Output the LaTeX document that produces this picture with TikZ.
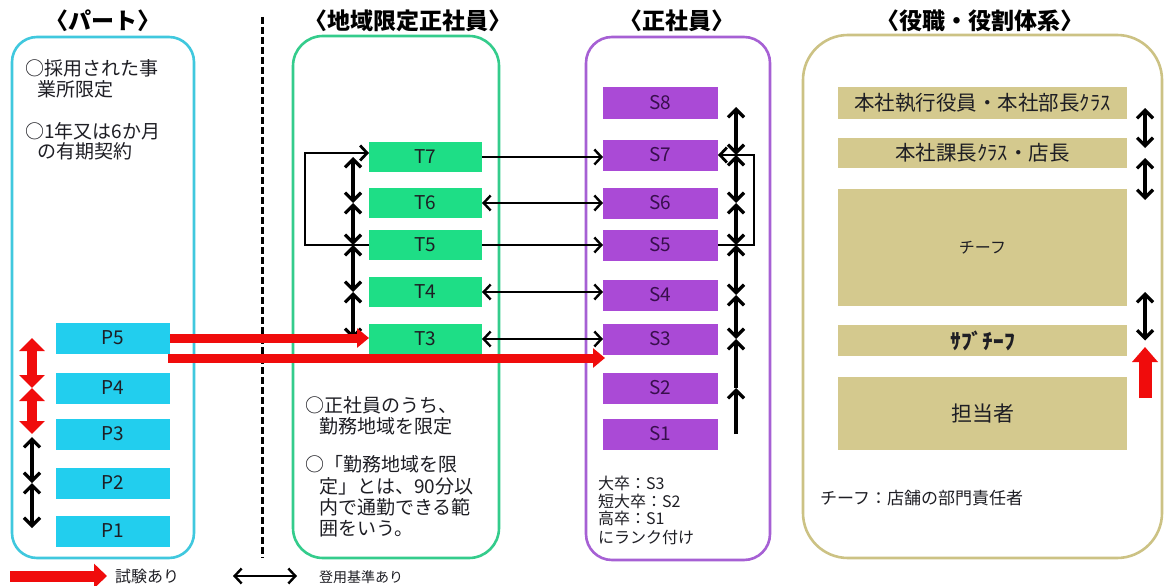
\documentclass[tikz,border=0pt]{standalone}
\usepackage{fontspec}
\setmainfont{Noto Sans CJK JP}
\usetikzlibrary{arrows.meta}
\definecolor{cyanline}{RGB}{64,200,222}
\definecolor{pfill}{RGB}{34,206,238}
\definecolor{greenline}{RGB}{52,204,140}
\definecolor{tfill}{RGB}{30,222,134}
\definecolor{purpline}{RGB}{166,96,212}
\definecolor{sfill}{RGB}{170,74,214}
\definecolor{khakiline}{RGB}{204,194,132}
\definecolor{kfill}{RGB}{212,201,142}
\definecolor{redarr}{RGB}{240,12,12}
\definecolor{stext}{RGB}{56,14,76}
\definecolor{dtext}{RGB}{30,30,36}
\tikzset{
  ttl/.style={font=\fontsize{23}{26}\selectfont\bfseries, inner sep=0pt, text=black},
  panel/.style={draw=#1, line width=2.6pt, inner sep=0pt, outer sep=0pt},
  lvl/.style={minimum height=31pt, inner sep=0pt, outer sep=0pt, font=\fontsize{19}{21}\selectfont},
  pbox/.style={lvl, fill=pfill, minimum width=114pt, text=dtext},
  tbox/.style={lvl, fill=tfill, minimum width=113pt, minimum height=30pt, text=dtext},
  sbox/.style={lvl, fill=sfill, minimum width=115pt, text=stext},
  kbox/.style={lvl, fill=kfill, minimum width=289pt, text=dtext, font=\fontsize{20.5}{23}\selectfont},
  note/.style={anchor=base west, inner sep=0pt, text=dtext, font=\fontsize{19}{21}\selectfont},
  snote/.style={anchor=base west, inner sep=0pt, text=dtext, font=\fontsize{16}{18}\selectfont},
  dbl/.style={line width=3.2pt, {Straight Barb[length=8pt,width=16pt]}-{Straight Barb[length=8pt,width=16pt]}},
  hdbl/.style={line width=2.4pt, {Straight Barb[length=7pt,width=15pt]}-{Straight Barb[length=7pt,width=15pt]}},
  one/.style={line width=2.4pt, -{Straight Barb[length=7pt,width=15pt]}},
  upone/.style={line width=3.2pt, -{Straight Barb[length=8pt,width=16pt]}},
  reddbl/.style={color=redarr, line width=10pt, {Triangle[length=13pt,width=25pt]}-{Triangle[length=13pt,width=25pt]}},
  redone/.style={color=redarr, line width=9pt, -{Triangle[length=12pt,width=19pt]}},
}
\begin{document}
\begin{tikzpicture}[x=1pt,y=-1pt]
\useasboundingbox (0,0) rectangle (1165,586);
\fill[white] (0,0) rectangle (1165,586);

% titles
\node[ttl] (h1) at (103,21) {〈パート〉};
\node[ttl] (h2) at (408,21) {〈地域限定正社員〉};
\node[ttl] (h3) at (677,21) {〈正社員〉};
\node[ttl] (h4) at (980,21) {〈役職・役割体系〉};

% panels
\node[panel=cyanline, rounded corners=25pt, minimum width=182pt, minimum height=521pt] (panP) at (103,297.5) {};
\node[panel=greenline, rounded corners=30pt, minimum width=206pt, minimum height=522pt] (panT) at (396,297) {};
\node[panel=purpline, rounded corners=26pt, minimum width=184pt, minimum height=523pt] (panS) at (678,298.5) {};
\node[panel=khakiline, rounded corners=45pt, minimum width=359pt, minimum height=523pt] (panK) at (982.5,296.5) {};

% dashed separator
\coordinate (dtop) at (262,17);
\coordinate (dbot) at (262,558);
\draw[line width=3pt, dash pattern=on 7pt off 3pt] (dtop) -- (dbot);

% P boxes
\node[pbox] (P5) at (113,338) {P5};
\node[pbox] (P4) at (113,388) {P4};
\node[pbox] (P3) at (113,434) {P3};
\node[pbox] (P2) at (113,483) {P2};
\node[pbox] (P1) at (113,531) {P1};

% T boxes
\node[tbox] (T7) at (425.5,157) {T7};
\node[tbox] (T6) at (425.5,203) {T6};
\node[tbox] (T5) at (425.5,245) {T5};
\node[tbox] (T4) at (425.5,292) {T4};
\node[tbox] (T3) at (425.5,339) {T3};

% S boxes
\node[sbox] (S8) at (660.5,103) {S8};
\node[sbox] (S7) at (660.5,155) {S7};
\node[sbox] (S6) at (660.5,203) {S6};
\node[sbox] (S5) at (660.5,245) {S5};
\node[sbox] (S4) at (660.5,295) {S4};
\node[sbox] (S3) at (660.5,339) {S3};
\node[sbox] (S2) at (660.5,388) {S2};
\node[sbox] (S1) at (660.5,434) {S1};

% K boxes
\node[kbox] (K1) at (982.5,103) {本社執行役員・本社部長ｸﾗｽ};
\node[kbox, minimum height=30pt] (K2) at (982.5,153) {本社課長ｸﾗｽ・店長};
\node[kbox, minimum height=117pt, font=\fontsize{16}{18}\selectfont] (K3) at (982.5,247.5) {チーフ};
\node[kbox, font=\fontsize{21.5}{23}\selectfont\bfseries] (K4) at (982.5,340.5) {ｻﾌﾞﾁｰﾌ};
\node[kbox, minimum height=73pt, font=\fontsize{21}{24}\selectfont] (K5) at (982.5,413.5) {担当者};

% notes
\node[note] (pn1) at (25,76) {○採用された事};
\node[note] (pn2) at (37,96) {業所限定};
\node[note] (pn3) at (25,138) {○1年又は6か月};
\node[note] (pn4) at (37,158) {の有期契約};

\node[note] (tn1) at (305,412) {○正社員のうち、};
\node[note] (tn2) at (319,433) {勤務地域を限定};
\node[note] (tn3) at (305,471) {○「勤務地域を限};
\node[note] (tn4) at (319,493) {定」とは、90分以};
\node[note] (tn5) at (319,514) {内で通勤できる範};
\node[note] (tn6) at (319,535) {囲をいう。};

\node[snote] (sn1) at (598,489) {大卒：S3};
\node[snote] (sn2) at (598,507) {短大卒：S2};
\node[snote] (sn3) at (598,524) {高卒：S1};
\node[snote] (sn4) at (598,543) {にランク付け};

\node[note, font=\fontsize{17}{19}\selectfont] (kn1) at (820,504) {チーフ：店舗の部門責任者};

% T -> S connectors
\draw[one] (T7.east) -- (T7.east -| S7.west);
\draw[hdbl] (T6.east) -- (T6.east -| S6.west);
\draw[one] (T5.east) -- (T5.east -| S5.west);
\draw[hdbl] (T4.east) -- (T4.east -| S4.west);
\draw[hdbl] (T3.east) -- (T3.east -| S3.west);

% T column vertical arrows and bracket
\coordinate (tx) at (353,0);
\coordinate (tb) at (305,0);
\draw[dbl] (tx |- T7) -- (tx |- T6);
\draw[dbl] (tx |- T6) -- (tx |- T5);
\draw[dbl] (tx |- T5) -- (tx |- T4);
\draw[dbl] (tx |- T4) -- (tx |- T3);
\draw[one, line width=2.8pt] (T5.west) -- (tb |- T5.west) -- ([yshift=4pt]tb |- T7.west) -- ([yshift=4pt]T7.west);

% S column vertical arrows and bracket
\coordinate (sx) at (736,0);
\coordinate (sb) at (754,0);
\draw[dbl, shorten <=4pt] (sx |- S8) -- (sx |- S7);
\draw[dbl] (sx |- S7) -- (sx |- S6);
\draw[dbl] (sx |- S6) -- (sx |- S5);
\draw[dbl] (sx |- S5) -- (sx |- S4);
\draw[dbl] (sx |- S4) -- (sx |- S3);
\draw[upone] (sx |- S2) -- (sx |- S3);
\draw[upone] (sx |- S1) -- (sx |- S2);
\draw[one, line width=2.8pt] (S5.east) -- (sb |- S5.east) -- (sb |- S7.east) -- (S7.east);

% K column arrows
\coordinate (kx) at (1145,0);
\coordinate (k3a) at (1145,200);
\coordinate (k3b) at (1145,292);
\coordinate (kr1) at (1145,398);
\coordinate (kr2) at (1145,347);
\draw[dbl, shorten <=5pt, shorten >=5pt] (kx |- K1) -- (kx |- K2);
\draw[dbl, shorten <=5pt] (kx |- K2) -- (k3a);
\draw[dbl] (k3b) -- (kx |- K4);
\draw[color=redarr, line width=13pt, -{Triangle[length=15pt,width=25pt]}] (kr1) -- (kr2);

% P column arrows
\coordinate (px) at (32,0);
\draw[reddbl] (px |- P5) -- (px |- P4);
\draw[reddbl] (px |- P4) -- (px |- P3);
\draw[dbl, shorten <=3pt] (px |- P3) -- (px |- P2);
\draw[dbl, shorten >=3pt] (px |- P2) -- (px |- P1);

% red promotion arrows
\coordinate (p5low) at (168,358);
\draw[redone] (P5.east) -- (P5.east -| T3.west);
\draw[redone] (p5low) -- ([xshift=2pt]p5low -| S3.west);

% legend
\coordinate (lr1) at (10,576);
\coordinate (lr2) at (107,576);
\node[anchor=west, inner sep=0pt, text=dtext, font=\fontsize{16}{18}\selectfont] (lt1) at (115,576) {試験あり};
\draw[color=redarr, line width=11pt, -{Triangle[length=13pt,width=24pt]}] (lr1) -- (lr2);
\coordinate (lb1) at (233,576);
\coordinate (lb2) at (297,576);
\node[anchor=west, inner sep=0pt, text=dtext, font=\fontsize{14}{16}\selectfont] (lt2) at (319,577) {登用基準あり};
\draw[hdbl] (lb1) -- (lb2);
\end{tikzpicture}
\end{document}
